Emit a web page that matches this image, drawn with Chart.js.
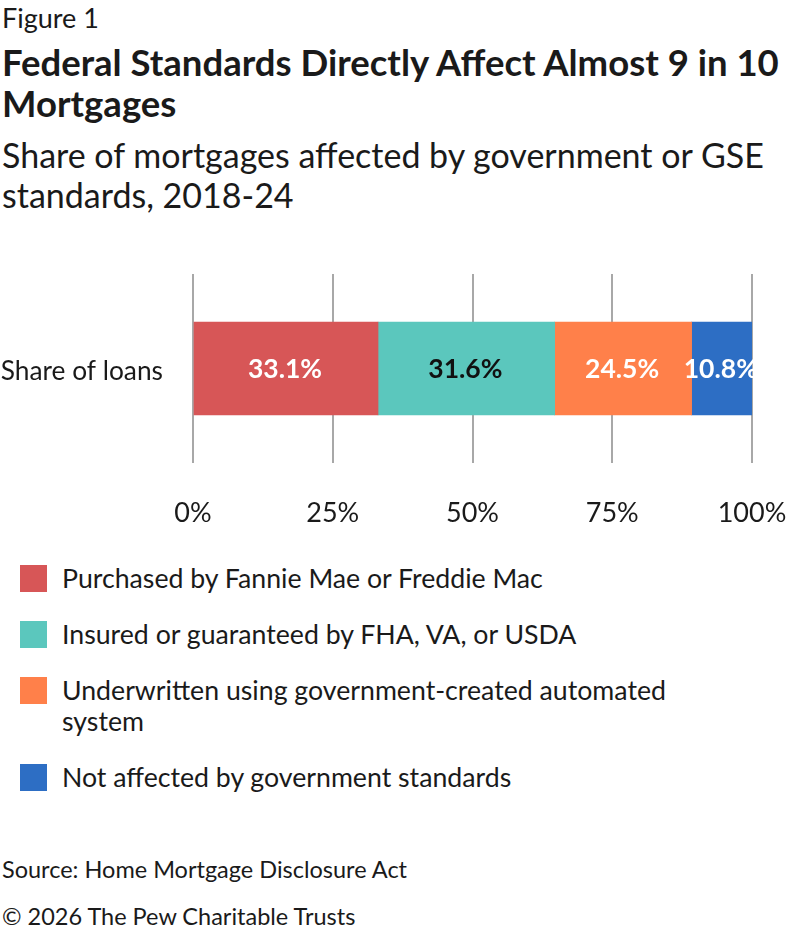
<!DOCTYPE html>
<html lang="en">
<head>
    <meta charset="UTF-8">
    <title>Federal Standards Directly Affect Almost 9 in 10 Mortgages</title>
    <style>
        body {
            margin: 0;
            width: 792px;
            height: 934px;
            background: #fff;
            font-family: Lato, "Noto Sans", sans-serif;
            color: #1a1a1a;
            position: relative;
            overflow: hidden;
        }
        .fig { position: absolute; left: 2px; top: 2px; font-size: 27px; line-height: 32px; }
        .title { position: absolute; left: 2px; top: 42px; font-size: 36.5px; font-weight: bold; line-height: 41px; width: 790px; }
        .sub { position: absolute; left: 2px; top: 135px; font-size: 34px; line-height: 40px; width: 785px; }
        .chart-container { position: absolute; left: 0; top: 260px; width: 792px; height: 273px; }
        .legend { position: absolute; left: 20px; top: 563px; width: 700px; }
        .legend .item { display: flex; align-items: flex-start; margin-bottom: 25px; font-size: 26.7px; line-height: 31px; }
        .legend .sw { width: 27px; height: 27px; flex: none; margin-right: 15px; margin-top: 2px; }
        .source { position: absolute; left: 2px; top: 855px; font-size: 23.5px; line-height: 28px; }
        .copy { position: absolute; left: 2px; top: 902px; font-size: 23.5px; line-height: 28px; }
    </style>
</head>
<body>
    <div class="fig">Figure 1</div>
    <div class="title">Federal Standards Directly Affect Almost 9 in 10 Mortgages</div>
    <div class="sub">Share of mortgages affected by government or GSE standards, 2018-24</div>
    <div class="chart-container">
        <canvas id="share-chart"></canvas>
    </div>
    <div class="legend" id="legend"></div>
    <div class="source">Source: Home Mortgage Disclosure Act</div>
    <div class="copy">© 2026 The Pew Charitable Trusts</div>

    <script src="https://cdn.jsdelivr.net/npm/chart.js"></script>
    <script>
        var categories = ['Share of loans'];
        var seriesNames = [
            'Purchased by Fannie Mae or Freddie Mac',
            'Insured or guaranteed by FHA, VA, or USDA',
            'Underwritten using government-created automated system',
            'Not affected by government standards'
        ];
        var seriesValues = [33.1, 31.6, 24.5, 10.8];
        var seriesColors = ['#d75657', '#5bc7bd', '#ff804a', '#2d6ec4'];
        var labelColors = ['#ffffff', '#111111', '#ffffff', '#ffffff'];
        var xTicks = [0, 25, 50, 75, 100];

        // legend built from the same arrays
        var legend = document.getElementById('legend');
        seriesNames.forEach(function (name, i) {
            var item = document.createElement('div');
            item.className = 'item';
            item.innerHTML = '<span class="sw" style="background:' + seriesColors[i] + '"></span><span>' + name + '</span>';
            legend.appendChild(item);
        });

        // value labels in the middle of each segment
        var barLabels = {
            id: 'barLabels',
            afterDatasetsDraw: function (chart) {
                var ctx = chart.ctx;
                ctx.save();
                ctx.font = 'bold 26.5px Lato';
                ctx.textAlign = 'center';
                ctx.textBaseline = 'middle';
                chart.data.datasets.forEach(function (ds, i) {
                    var bar = chart.getDatasetMeta(i).data[0];
                    ctx.fillStyle = labelColors[i];
                    ctx.fillText(ds.data[0].toFixed(1) + '%', (bar.x + bar.base) / 2 - 1, bar.y + 1);
                });
                ctx.restore();
            }
        };

        var ctx = document.getElementById('share-chart').getContext('2d');
        var chart = new Chart(ctx, {
            type: 'bar',
            data: {
                labels: categories,
                datasets: seriesNames.map(function (name, i) {
                    return {
                        label: name,
                        data: [seriesValues[i]],
                        backgroundColor: seriesColors[i],
                        borderWidth: 0,
                        barThickness: 93
                    };
                })
            },
            options: {
                indexAxis: 'y',
                responsive: true,
                maintainAspectRatio: false,
                animation: false,
                layout: { padding: { top: 14, right: 40, left: 0, bottom: 0 } },
                plugins: {
                    legend: { display: false },
                    tooltip: { enabled: false }
                },
                scales: {
                    x: {
                        stacked: true,
                        min: 0,
                        max: 100,
                        afterBuildTicks: function (axis) {
                            axis.ticks = xTicks.map(function (v) { return { value: v }; });
                        },
                        afterFit: function (axis) {
                            axis.height = 70;
                            axis.paddingLeft = 0;
                            axis.paddingRight = 0;
                        },
                        grid: { color: '#a8a8a8', lineWidth: 2, drawTicks: false },
                        border: { display: false },
                        ticks: {
                            padding: 34,
                            maxRotation: 0,
                            color: '#1a1a1a',
                            font: { family: 'Lato', size: 27 },
                            callback: function (v) { return v + '%'; }
                        }
                    },
                    y: {
                        stacked: true,
                        afterFit: function (axis) {
                            axis.width = 193;
                            axis.paddingTop = 0;
                            axis.paddingBottom = 0;
                        },
                        grid: { display: false, drawTicks: false },
                        border: { display: false },
                        ticks: {
                            padding: 30,
                            labelOffset: 3,
                            color: '#1a1a1a',
                            font: { family: 'Lato', size: 26.3 }
                        }
                    }
                }
            },
            plugins: [barLabels]
        });
    </script>
</body>
</html>
